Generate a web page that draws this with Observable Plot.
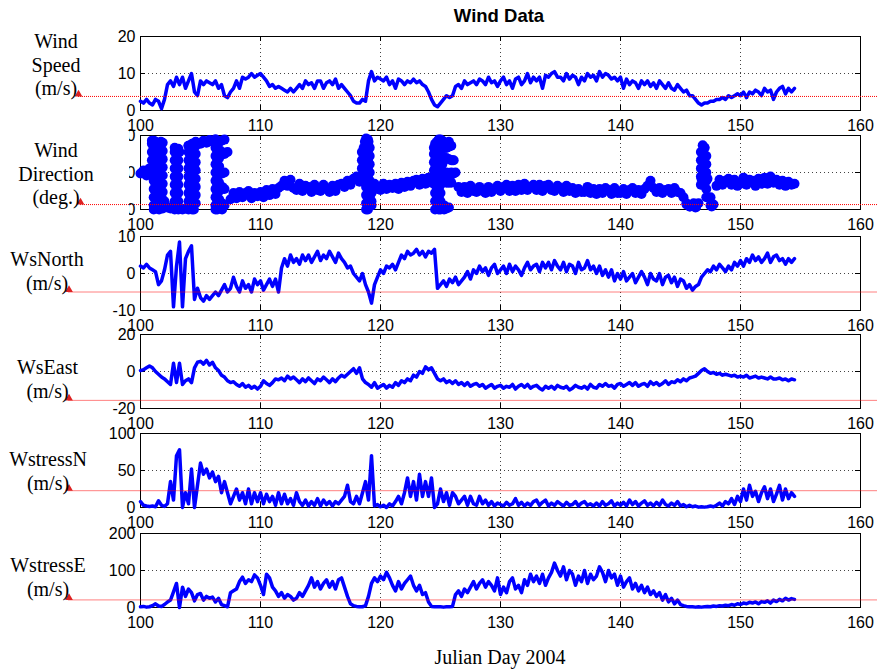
<!DOCTYPE html>
<html><head><meta charset="utf-8">
<script src="https://cdn.jsdelivr.net/npm/d3@7"></script>
<script src="https://cdn.jsdelivr.net/npm/@observablehq/plot@0.6"></script>
<style>
body{margin:0;background:#fff;}
#fig{position:relative;width:877px;height:671px;background:#fff;overflow:hidden;}
.panel{position:absolute;left:0;}
#title{position:absolute;left:349px;width:300px;top:5px;text-align:center;font:bold 18.5px "Liberation Sans",Arial,sans-serif;line-height:22px;}
#xlabel{position:absolute;left:350px;width:300px;top:645px;text-align:center;font:20px "Liberation Serif","Times New Roman",serif;line-height:24px;}
</style></head><body>
<div id="fig"><div id="title">Wind Data</div><div id="xlabel">Julian Day 2004</div></div>
<script>
// ---- sampling of the series (Julian day of first sample, days between samples)
const startDay = 100, stepDay = 0.25;
const xTicks = [100, 110, 120, 130, 140, 150, 160];

// Wind speed (m/s), 4 samples per day from day 100
const windSpeed = [
2.5,2,3,2, 1.5,3,2.5,0.5, 3,7,8,6.5, 9,7,9,6, 8,10,5,4, 8,7,8,7.5, 7,8,6,7, 4,3.5,5,6,
8,6,9,8.5, 9,10,9,9.5, 10,9,8,6.5, 7,6,6.5,6, 5.5,5,6,5, 6,7,6,8, 7,7.5,6,8, 8,6,7.5,8,
7,8.5,6,7, 6,5,4,2.5, 2,2,3,2.5, 8,10.5,8,9, 8.5,8,9,7, 8,6,8.5,8, 7,8,7.5,8.5, 7.5,8,7,6.5,
5,3,1.5,1, 2,3,4,3.5, 4,6.5,7,6, 8,7,7.5,8, 7,8.5,8,7, 9,7.5,8,6.5, 8,9,7,8, 6,8.5,9,7,
8,10,7.5,9, 8,9,6,9.5, 9,10,10.5,9, 9,8,10,8.5, 9.5,9,7,9, 8,10,9,9.5, 8,10.5,9,10, 9.5,8.5,9,8,
9,6,8.5,7, 8,7.5,6,8, 7,8,6.5,7.5, 6,8,7,6, 7.5,6,5.5,7, 6,5,5.5,4, 4,3,2,1.5, 2,2,2.5,2.5,
3,3,3.5,3, 4,3.5,4,4.5, 4,5,3.5,5, 4.5,5.5,5,4, 6,5,5.5,3, 5,6,6.5,4.5, 6,5,6];

// Wind direction (deg.), 4 samples per day from day 100
const windDir = [
175,190,165,200, 330,10,250,60, 40,10,5,20, 200,280,0,5, 310,60,200,320, 320,335,325,338, 330,340,325,335, 340,280,50,80,
55,85,60,80, 90,55,80,65, 85,60,95,70, 100,75,105,115, 140,115,145,105, 95,125,90,115, 110,85,120,95, 90,120,100,85,
115,90,120,125, 110,140,120,150, 160,135,165,200, 330,20,125,100, 95,125,100,120, 105,125,100,130, 110,135,115,140, 145,120,150,125,
155,130,160,165, 200,330,300,150, 240,180,110,85, 110,80,115,90, 85,110,90,80, 110,85,100,115, 90,110,120,90, 115,90,120,95,
125,95,110,120, 95,120,90,115, 120,95,90,115, 105,85,115,90, 105,80,100,85, 85,110,80,100, 75,100,80,105, 95,75,105,80,
80,100,75,95, 105,80,95,75, 100,115,140,105, 85,105,80,95, 100,80,105,85, 80,60,30,15, 20,10,30,150, 300,150,60,24,
115,145,120,140, 150,120,145,115, 125,155,120,145, 140,115,150,125, 155,125,160,130, 145,120,140,115, 135,120,125];

// Extra direction readings during the fast direction swings: [day, [deg., ...]]
const windDirBurst = [
[100.95,[200,240,280,320,335]],
[101.1,[335,300,260,220,180,140,100,60,20,0]],
[101.25,[10,50,90,130,170,210,250,290,330]],
[101.4,[320,280,240,200,160,120,80,40,5]],
[101.55,[0,40,80,120,160,200,240,280,320]],
[101.7,[330,290,250,210,170,130,90,50,10]],
[101.85,[5,45,85,125,165,205,245,285,325]],
[102.85,[0,40,80,120,160,200,240,280,300]],
[103.0,[290,250,210,170,130,90,50,10]],
[103.15,[0,40,80,120,160,200,240,280,295]],
[104.0,[0,40,80,120,160,200,240,280,310]],
[104.15,[300,260,220,180,140,100,60,20]],
[104.3,[0,40,80,120,160,200,240,280,320]],
[104.45,[310,270,230,190,150,110,70,30,0]],
[104.6,[30,70,110,150,190,230,270,310,330]],
[106.25,[340,300,260,220,180,140,100,60,20,0]],
[106.4,[0,40,80,120,160,200,240,280,320]],
[106.55,[330,290,250,210,170,130,90,50,10]],
[106.8,[280,270,180,175,110,100,30,0]],
[107.0,[270,180,100,20]],
[118.45,[160,200,240,280]],
[118.6,[300,260,220,180,140]],
[118.7,[180,220,260,300,330]],
[118.8,[345,310,270,230,190,150,110,70,30,0]],
[118.95,[0,40,80,120,160,200,240,280,320,340]],
[119.1,[300,260,220,180,140,100,60,20]],
[119.25,[40,80,120]],
[124.45,[150,190,230,270,300]],
[124.55,[320,280,240,200,160,120,80,40,0]],
[124.7,[10,50,90,130,170,210,250,290,330]],
[124.85,[340,300,260,220,180,140,100,60,20,0]],
[125.0,[0,40,80,120,160,200,240,280,320,340]],
[125.15,[335,300,260,220,180,140]],
[125.3,[20,0]],
[125.5,[300,250,180,130,5]],
[125.7,[330,305,245,175,130,10]],
[125.9,[310,240,180,130]],
[126.1,[240,175]],
[145.5,[25]],[145.8,[15]],[146.1,[30]],[146.3,[12]],
[146.7,[120,160,200,240,280]],
[146.85,[312,280,240,200,160,120]],
[147.0,[140,180,220,260,300]],
[147.15,[260,220,180,140,100,60]],
[147.5,[20]],[147.6,[15]]];

// North wind component (m/s)
const wsNorth = [
2,1.5,2.5,1.5, 1,0.5,-3,-2, 1,5,6,-9, 2,8.5,-9,4, 6,7.5,-7,-4, -6.5,-7.5,-6,-7, -6,-5,-6,-4.5, -3,-5,-4,-1,
-3.5,-5,-2,-4, -3,-5,-1.5,-3, -2,-4.5,-3,-1.5, -3.5,-1.5,-5,1.5, 4,2,5,3, 4,2.5,5,3.5, 5,3,4.5,6, 3.5,5,4,6,
4.5,3,5.5,4, 3,1.5,2,0, -1,-2,0,-3, -5,-8,-3,-1, 1,0,2,1.5, 2.5,1,3,5, 4,6,5,5.5, 6.5,5,6,4.5,
6,5.5,6.5,-4, -3,-2,-3.5,-1.5, -2.5,-1,-3,-2, -1,0.5,-1.5,1, 0,2,0.5,1.5, -0.5,1.5,2.5,0, 1,2,0,2.5, 0.5,2,1,-0.5,
1.5,3,1,2, 2.5,0.5,3,1.5, 3,1,3.5,2, 1,3,0.5,2.5, 2,0,3,1, 1.5,3.5,1,2, 0,2,-0.5,1, -1,1,-2,0,
-1.5,0.5,-2,-1, 0,-2.5,-1,0.5, -1,-3,0,-1.5, -2,0,-3,-1, -0.5,-2.5,-1,-3.5, -1.5,-2,-4,-3, -4.5,-3.5,-3,-1, 0,1,0.5,2,
1,2.5,1.5,0.5, 2,1,3,2, 3.5,2,4,3, 5,3.5,4.5,3, 4,5.5,3,4.5, 5,3.5,4,2.5, 4,3,4];

// East wind component (m/s)
const wsEast = [
0.5,1,2,3, 2,0,-1.5,-3, -4,-5.5,-7,4.5, -6,4.5,-7,-5, -4,-6,2,5, 5.5,4,6,3.5, 5,2,0.5,-2, -3,-5,-6,-5.5,
-7,-8,-6.5,-8.5, -7.5,-9,-8,-9.5, -8,-5,-6.5,-7.5, -6,-4,-4.5,-3.5, -5,-2.5,-4,-3, -4.5,-6,-4,-5.5, -3.5,-5,-6.5,-4, -5,-3,-4.5,-6,
-4,-5.5,-3.5,-2, -3,-1.5,0,1.5, -1,2,-4,-6, -7,-8.5,-6,-9, -8,-7,-9,-7.5, -8.5,-6,-7.5,-5, -6,-4,-5,-2, -3,0,-1,2.5,
1,2,-1,-4, -5,-4,-6,-5, -6.5,-5,-7,-6, -7.5,-6,-8,-7, -6.5,-8,-7,-9, -8,-7,-9,-8, -7.5,-9,-8,-8.5, -7,-9.5,-8,-7,
-8.5,-7,-9,-8, -7.5,-9,-10,-8, -9,-8,-9.5,-7.5, -8.5,-9,-8,-10, -9,-7.5,-8.5,-9, -8,-9.5,-7,-8.5, -9,-7,-8,-6.5, -8,-7.5,-9,-7,
-6.5,-8,-7,-6, -7.5,-6,-8,-7, -6.5,-8,-5.5,-7, -6,-7.5,-6.5,-5, -7,-5.5,-6,-4.5, -5.5,-4,-5,-3.5, -3,-2.5,-1,0.5, 1.5,0,-1,-0.5,
-1.5,-1,-2,-1.5, -2,-2.5,-2,-3, -2.5,-3,-2,-3.5, -3,-2.5,-3.5,-3, -3.5,-4,-3,-4, -4,-3.5,-4.5,-4, -5,-4,-4.5];

// North wind stress
const wstressN = [
8,3,2,1.5, 2,1,9,3, 1.5,5,35,10, 70,78,0,20, 5,52,0,30, 60,45,52,40, 48,35,42,20, 35,20,5,15,
25,10,20,5, 25,5,20,8, 20,5,18,8, 15,3,20,5, 18,5,12,3, 20,8,3,10, 2,8,3,12, 2,10,4,8,
2,8,5,10, 15,30,8,5, 15,5,20,35, 10,70,2,4, 1,3,0,5, 2,8,15,5, 20,40,15,35, 10,45,15,35,
15,40,0,5, 25,8,20,3, 20,15,5,10, 15,3,15,5, 3,15,5,10, 3,8,2,6, 4,2,7,3, 5,12,3,7,
2,6,3,8, 10,3,7,10, 2,6,3,8, 5,2,7,3, 4,8,2,6, 8,3,5,2, 6,2,8,3, 5,9,2,6,
3,7,2,10, 4,8,2,6, 9,3,6,2, 7,3,10,4, 2,6,3,8, 2,4,1,3, 1,2,0.5,1, 0.5,1,2,1,
3,6,2,8, 5,12,4,15, 8,25,10,30, 15,22,8,20, 28,12,25,8, 18,30,10,25, 12,20,15];

// East wind stress
const wstressE = [
2,3,1,2, 5,10,4,3, 8,15,20,42, 65,0,55,30, 50,40,18,35, 38,20,30,25, 28,15,25,8, 5,2,40,45,
50,70,82,65, 75,70,88,80, 60,35,90,80, 55,45,30,40, 25,35,30,20, 25,40,30,45, 60,80,55,70, 50,65,75,55,
70,50,75,80, 55,30,10,5, 3,2,2,5, 30,65,80,70, 85,75,95,80, 60,45,70,50, 65,75,85,60, 45,60,35,40,
15,3,2,2, 2,1,2,2, 3,35,45,30, 50,40,55,70, 50,65,75,55, 70,60,45,80, 35,55,40,70, 80,50,60,40,
75,60,90,70, 85,65,90,60, 80,95,120,100, 85,110,75,100, 90,60,85,70, 100,65,90,75, 85,110,95,70, 100,80,90,60,
85,55,70,80, 50,65,45,60, 40,55,35,45, 30,40,20,35, 15,25,10,20, 8,5,3,2, 2,1,2,1, 2,3,2,4,
3,5,4,6, 5,8,6,10, 8,12,10,14, 12,15,10,16, 14,18,12,20, 16,22,18,25, 20,24,22];

// reference (red) levels marked on each panel
const refLevels = [3.8, 24, -5, -15.6, 22.7, 20.5];

const panelLabels = ["Wind\nSpeed\n(m/s)", "Wind\nDirection\n(deg.)", "WsNorth\n(m/s)", "WsEast\n(m/s)", "WstressN\n(m/s)", "WstressE\n(m/s)"];
const yTickSets = [[0,10,20],[0,180,360],[-10,0,10],[-20,0,20],[0,50,100],[0,100,200]];
const seriesList = [windSpeed, windDir, wsNorth, wsEast, wstressN, wstressE];

// layout (pixels)
const layout = [
  {top: 36,  triX: 78, labelX: 55.5, labelDy: -9.5},
  {top: 135, triX: 80, labelX: 55.5, labelDy: 0.5},
  {top: 236, triX: 68.5, labelX: 46.5, labelDy: -3},
  {top: 334, triX: 68.5, labelX: 47, labelDy: 7},
  {top: 433, triX: 68.5, labelX: 47.5, labelDy: 0},
  {top: 533, triX: 68.5, labelX: 47.5, labelDy: 6}
];

const W = 877, ML = 140, MR = 17, MT = 10, MB = 16, PH = 74, SVGH = PH + MT + MB;
const PW = W - ML - MR;
const fig = document.getElementById("fig");
const sans = "'Liberation Sans', Arial, Helvetica, sans-serif";
const serif = "'Liberation Serif', 'Times New Roman', Times, serif";

const burstRows = windDirBurst.flatMap(([day, degs]) => degs.map(v => ({day, v})));

seriesList.forEach((vals, k) => {
  const L = layout[k];
  const yt = yTickSets[k];
  const rows = vals.map((v, i) => ({day: startDay + i * stepDay, v}));
  const dataMarks = k === 1
    ? [Plot.dot(rows.concat(burstRows), {x: "day", y: "v", r: 5, fill: "#0000ff"})]
    : [Plot.line(rows, {x: "day", y: "v", stroke: "#0000ff", strokeWidth: 3.5, strokeLinejoin: "round"})];
  const plot = Plot.plot({
    width: W, height: SVGH,
    marginLeft: ML, marginRight: MR, marginTop: MT, marginBottom: MB,
    style: {background: "transparent", overflow: "visible", fontFamily: sans, fontSize: "16px", color: "#000"},
    x: {domain: [100, 160], label: null},
    y: {domain: [yt[0], yt[2]], label: null},
    marks: [
      Plot.gridX(xTicks.slice(1, -1), {stroke: "#444", strokeOpacity: 1, strokeDasharray: "1,3"}),
      Plot.gridY([yt[1]], {stroke: "#444", strokeOpacity: 1, strokeDasharray: "1,3"}),
      Plot.frame({stroke: "#000"}),
      Plot.tickX(xTicks, {x: d => d, insetTop: PH - 5, stroke: "#000"}),
      Plot.tickX(xTicks, {x: d => d, insetBottom: PH - 5, stroke: "#000"}),
      Plot.tickY(yt, {y: d => d, insetRight: PW - 5, stroke: "#000"}),
      Plot.tickY(yt, {y: d => d, insetLeft: PW - 5, stroke: "#000"}),
      Plot.axisX(xTicks, {anchor: "bottom", tickSize: 0, tickPadding: 9, tickFormat: d => String(d), fontSize: 16, fill: "#000"}),
      Plot.axisY(yt, {anchor: "left", tickSize: 0, tickPadding: 5, tickFormat: d => String(d), fontSize: 16, fill: "#000"}),
      ...dataMarks,
      Plot.ruleY([refLevels[k]], {y: d => d, stroke: "#ff0000", strokeWidth: 1, strokeDasharray: "1,1", insetLeft: -(ML - L.triX), insetRight: -MR}),
      Plot.dot([refLevels[k]], {y: d => d, frameAnchor: "left", dx: L.triX - ML, dy: -2.2, symbol: "triangle", r: 2.9, fill: "#dd2222", stroke: "none"}),
      Plot.text([panelLabels[k]], {text: d => d, frameAnchor: "left", dx: L.labelX - ML, dy: L.labelDy, textAnchor: "middle", lineAnchor: "middle", lineHeight: 1.18, fontFamily: serif, fontSize: 20, fill: "#000"})
    ]
  });
  plot.classList.add("panel");
  plot.style.position = "absolute";
  plot.style.left = "0px";
  plot.style.top = (L.top - MT) + "px";
  if (k === 1) {
    // tick labels of the direction panel are mostly hidden in the original
    const svg = d3.select(plot);
    svg.append("defs").append("clipPath").attr("id", "dirclip")
      .append("rect").attr("x", 129).attr("y", -40).attr("width", 20).attr("height", SVGH + 80);
    const g = svg.append("g").attr("clip-path", "url(#dirclip)");
    svg.selectAll('g[aria-label="y-axis tick label"]').each(function() { g.node().appendChild(this); });
  }
  fig.appendChild(plot);
});
</script>
</body></html>
